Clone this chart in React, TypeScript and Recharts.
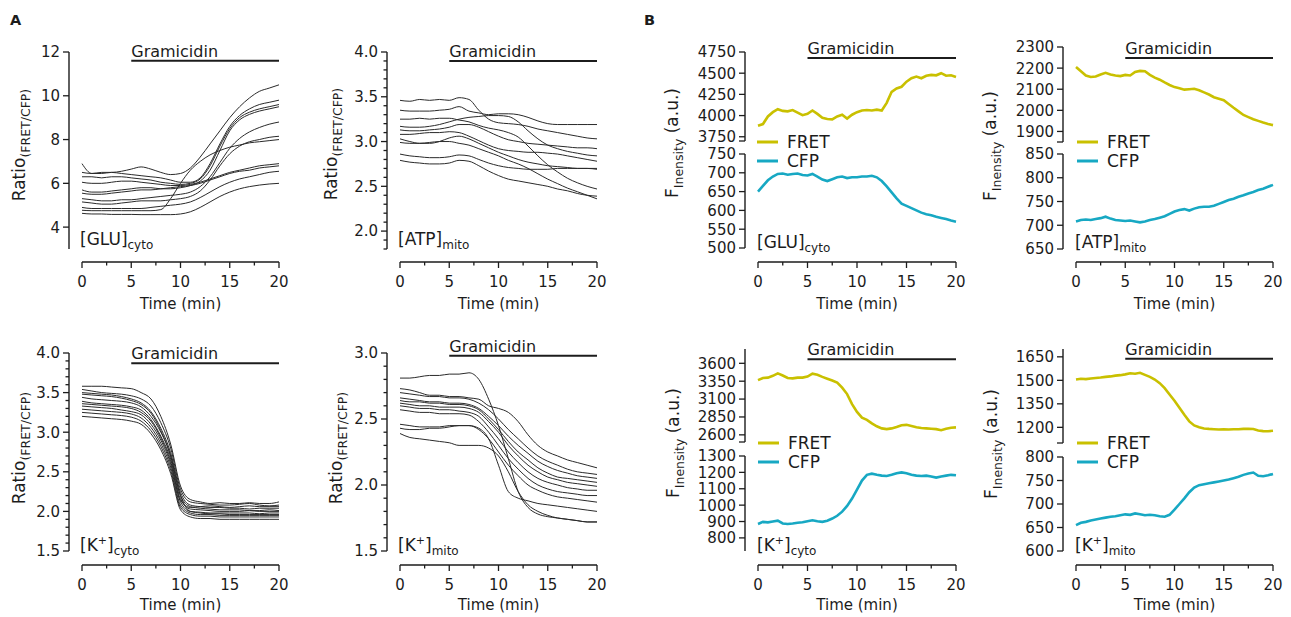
import React from 'react';
import { LineChart, Line, XAxis, YAxis, ReferenceLine } from 'recharts';

const FONT = '"DejaVu Sans", "Liberation Sans", Arial, sans-serif';
const INK = '#1c1c1c';
const TRACE = '#2a2a2a';
const FRET_COLOR = '#c9c000';
const CFP_COLOR = '#17a8c3';

// time points (min)
const minutesA = [0, 1, 2, 3, 4, 5, 6, 7, 8, 9, 10, 11, 12, 13, 14, 15, 16, 17, 18, 19, 20];
const minutesB = [
  0, 0.5, 1, 1.5, 2, 2.5, 3, 3.5, 4, 4.5, 5, 5.5, 6, 6.5, 7, 7.5, 8, 8.5, 9, 9.5, 10,
  10.5, 11, 11.5, 12, 12.5, 13, 13.5, 14, 14.5, 15, 15.5, 16, 16.5, 17, 17.5, 18, 18.5, 19, 19.5, 20,
];
const timeTicks = [0, 2.5, 5, 7.5, 10, 12.5, 15, 17.5, 20];
const timeLabels = [0, 5, 10, 15, 20];

// A: single-cell ratio traces
const gluCyto = [
  [6.9, 6.45, 6.45, 6.5, 6.45, 6.4, 6.35, 6.3, 6.25, 6.15, 6.05, 6.05, 6.25, 6.9, 7.8, 8.6, 9.1, 9.4, 9.6, 9.7, 9.8],
  [6.5, 6.45, 6.5, 6.5, 6.55, 6.65, 6.75, 6.65, 6.5, 6.4, 6.45, 6.7, 7.2, 7.8, 8.4, 9.0, 9.5, 9.9, 10.2, 10.35, 10.5],
  [6.3, 6.3, 6.25, 6.3, 6.3, 6.25, 6.2, 6.15, 6.05, 6.0, 5.95, 6.0, 6.2, 6.8, 7.7, 8.5, 9.0, 9.25, 9.4, 9.5, 9.6],
  [6.05, 6.0, 6.0, 6.05, 6.1, 6.1, 6.05, 6.0, 5.95, 5.9, 5.9, 5.95, 6.05, 6.2, 6.35, 6.5, 6.6, 6.7, 6.8, 6.85, 6.9],
  [5.7, 5.6, 5.6, 5.65, 5.7, 5.75, 5.8, 5.8, 5.75, 5.75, 5.8, 5.9, 6.1, 6.6, 7.5, 8.4, 8.9, 9.15, 9.3, 9.4, 9.5],
  [5.55, 5.5, 5.5, 5.55, 5.6, 5.65, 5.7, 5.7, 5.75, 5.8, 5.85, 5.9, 6.0, 6.15, 6.3, 6.45, 6.55, 6.6, 6.7, 6.75, 6.8],
  [5.3, 5.25, 5.2, 5.2, 5.25, 5.25, 5.3, 5.35, 5.4, 5.45, 5.5, 5.6, 5.85, 6.3, 6.95, 7.6, 8.05, 8.35, 8.55, 8.7, 8.8],
  [5.15, 5.1, 5.05, 5.05, 5.1, 5.15, 5.2, 5.2, 5.2, 5.25, 5.3, 5.4, 5.65, 6.15, 6.8, 7.35, 7.7, 7.9, 8.0, 8.1, 8.15],
  [4.9, 4.85, 4.85, 4.85, 4.85, 4.85, 4.85, 4.9, 4.95, 5.0, 5.05, 5.15, 5.35, 5.6, 5.85, 6.05, 6.2, 6.3, 6.4, 6.5, 6.55],
  [4.77, 4.75, 4.75, 4.75, 4.75, 4.75, 4.75, 4.75, 4.8, 5.3, 6.0, 6.6, 7.0, 7.3, 7.5, 7.65, 7.75, 7.85, 7.9, 7.95, 8.0],
  [4.63, 4.6, 4.6, 4.58, 4.58, 4.58, 4.57, 4.57, 4.57, 4.57, 4.6, 4.7, 4.9, 5.15, 5.4, 5.6, 5.75, 5.85, 5.92, 5.97, 6.0],
];

const atpMito = [
  [3.46, 3.45, 3.47, 3.46, 3.47, 3.46, 3.49, 3.47, 3.35, 3.25, 3.21, 3.2, 3.19, 3.17, 3.14, 3.12, 3.1, 3.08, 3.06, 3.04, 3.03],
  [3.35, 3.34, 3.34, 3.34, 3.35, 3.36, 3.39, 3.34, 3.32, 3.3, 3.31, 3.31, 3.3, 3.27, 3.23, 3.2, 3.19, 3.19, 3.19, 3.19, 3.19],
  [3.25, 3.25, 3.26, 3.25, 3.26, 3.26, 3.24, 3.22, 3.18, 3.15, 3.13, 3.1, 3.05, 2.95, 2.84, 2.74, 2.66, 2.59, 2.54, 2.5, 2.47],
  [3.17, 3.16, 3.16, 3.17, 3.19, 3.22, 3.25, 3.27, 3.28, 3.29, 3.29, 3.28, 3.22, 3.12, 3.03, 2.96, 2.92, 2.89, 2.87, 2.85, 2.84],
  [3.13, 3.12, 3.12, 3.13, 3.14, 3.16, 3.19, 3.19, 3.16, 3.11, 3.06, 3.02, 3.0, 2.98, 2.97, 2.96, 2.95, 2.94, 2.93, 2.93, 2.92],
  [3.08, 3.08, 3.09, 3.1, 3.1, 3.11, 3.1, 3.06, 3.01, 2.96, 2.92, 2.9, 2.89, 2.88, 2.88, 2.87, 2.86, 2.84, 2.82, 2.8, 2.78],
  [2.99, 2.98, 2.98, 2.99, 3.0, 3.0, 2.98, 2.96, 2.92, 2.88, 2.84, 2.79, 2.75, 2.7, 2.64, 2.58, 2.53, 2.48, 2.44, 2.4, 2.36],
  [3.03, 3.0, 2.98, 2.98, 3.0, 3.04, 3.06, 3.03, 2.98, 2.93, 2.88, 2.84, 2.8, 2.77, 2.75, 2.73, 2.72, 2.71, 2.7, 2.7, 2.7],
  [2.86, 2.84, 2.83, 2.82, 2.82, 2.83, 2.85, 2.84, 2.8, 2.76, 2.73, 2.71, 2.7, 2.69, 2.69, 2.69, 2.7, 2.7, 2.7, 2.7, 2.69],
  [2.79, 2.77, 2.76, 2.75, 2.75, 2.76, 2.79, 2.78, 2.73, 2.67, 2.62, 2.58, 2.56, 2.54, 2.52, 2.5, 2.47, 2.45, 2.42, 2.4, 2.39],
];

const kCyto = [
  [3.58, 3.58, 3.58, 3.57, 3.56, 3.55, 3.5, 3.42, 3.2, 2.85, 2.32, 2.15, 2.12, 2.1, 2.11, 2.1, 2.1, 2.11, 2.1, 2.1, 2.12],
  [3.54, 3.52, 3.5, 3.49, 3.48, 3.46, 3.42, 3.33, 3.12, 2.8, 2.28, 2.12, 2.1, 2.09, 2.08, 2.08, 2.09, 2.1, 2.08, 2.07, 2.08],
  [3.5, 3.49, 3.48, 3.47, 3.45, 3.42, 3.37, 3.26, 3.05, 2.74, 2.24, 2.08, 2.06, 2.05, 2.05, 2.04, 2.04, 2.03, 2.04, 2.04, 2.04],
  [3.48, 3.47, 3.46, 3.45, 3.43, 3.4, 3.35, 3.24, 3.02, 2.7, 2.2, 2.0, 1.98, 1.97, 1.97, 1.96, 1.96, 1.96, 1.96, 1.96, 1.96],
  [3.44, 3.42, 3.41, 3.4, 3.39, 3.37, 3.32, 3.2, 3.0, 2.7, 2.2, 2.06, 2.04, 2.03, 2.02, 2.02, 2.02, 2.01, 2.01, 2.02, 2.01],
  [3.39, 3.37, 3.36, 3.35, 3.34, 3.32, 3.28, 3.16, 2.95, 2.66, 2.16, 2.03, 2.02, 2.01, 2.0, 2.0, 2.0, 2.01, 2.0, 2.0, 2.0],
  [3.36, 3.35, 3.34, 3.33, 3.32, 3.3, 3.25, 3.14, 2.93, 2.63, 2.14, 2.05, 2.06, 2.07, 2.06, 2.05, 2.06, 2.07, 2.06, 2.06, 2.06],
  [3.33, 3.32, 3.31, 3.3, 3.28, 3.26, 3.22, 3.1, 2.9, 2.6, 2.12, 2.0, 1.99, 1.98, 1.98, 1.98, 1.98, 1.98, 1.97, 1.98, 1.98],
  [3.29, 3.28, 3.27, 3.26, 3.25, 3.23, 3.18, 3.06, 2.86, 2.56, 2.08, 1.98, 1.96, 1.96, 1.95, 1.95, 1.95, 1.95, 1.95, 1.95, 1.95],
  [3.25, 3.24, 3.23, 3.22, 3.21, 3.19, 3.14, 3.02, 2.82, 2.52, 2.05, 1.96, 1.94, 1.94, 1.93, 1.93, 1.93, 1.93, 1.93, 1.93, 1.93],
  [3.2, 3.19, 3.18, 3.17, 3.16, 3.14, 3.1, 2.98, 2.78, 2.48, 2.02, 1.93, 1.91, 1.91, 1.9, 1.9, 1.9, 1.9, 1.9, 1.9, 1.9],
];

const kMito = [
  [2.81, 2.81, 2.82, 2.83, 2.83, 2.84, 2.84, 2.85, 2.8, 2.65, 2.45, 2.2, 1.95, 1.83, 1.78, 1.76, 1.75, 1.74, 1.73, 1.72, 1.72],
  [2.73, 2.72, 2.7, 2.68, 2.68, 2.67, 2.67, 2.66, 2.65, 2.6, 2.58, 2.55, 2.48, 2.38, 2.3, 2.25, 2.22, 2.19, 2.17, 2.15, 2.13],
  [2.7, 2.69, 2.68, 2.67, 2.67, 2.66, 2.66, 2.65, 2.62, 2.57, 2.5, 2.42, 2.35, 2.28, 2.22, 2.18, 2.15, 2.12, 2.1, 2.09, 2.08],
  [2.66, 2.65, 2.64, 2.63, 2.63, 2.62, 2.62, 2.61, 2.58, 2.52, 2.45, 2.37, 2.3, 2.24, 2.18, 2.14, 2.11, 2.09, 2.07, 2.06, 2.05],
  [2.64, 2.63, 2.63, 2.62, 2.62, 2.61, 2.61, 2.6, 2.57, 2.5, 2.42, 2.33, 2.25, 2.19, 2.13, 2.09, 2.06, 2.05, 2.04, 2.03, 2.02],
  [2.62, 2.61, 2.6, 2.6, 2.59, 2.59, 2.59, 2.58, 2.55, 2.48, 2.4, 2.3, 2.22, 2.15, 2.1, 2.06, 2.04, 2.02, 2.01, 2.0, 1.99],
  [2.6, 2.59, 2.58, 2.58, 2.57, 2.57, 2.56, 2.55, 2.52, 2.44, 2.35, 2.25, 2.17, 2.1, 2.05, 2.02, 2.0, 1.98, 1.97, 1.96, 1.96],
  [2.57, 2.56, 2.55, 2.55, 2.54, 2.54, 2.54, 2.53, 2.48, 2.4, 2.3, 2.2, 2.12, 2.05, 2.0, 1.97, 1.95, 1.94, 1.93, 1.92, 1.92],
  [2.46, 2.45, 2.44, 2.44, 2.44, 2.45, 2.45, 2.45, 2.42, 2.35, 2.25, 2.15, 2.07, 2.0, 1.96, 1.93, 1.91, 1.9, 1.89, 1.88, 1.87],
  [2.43, 2.42, 2.42, 2.43, 2.43, 2.44, 2.45, 2.45, 2.43, 2.35, 2.15, 1.95, 1.9, 1.88, 1.86, 1.85, 1.84, 1.83, 1.82, 1.81, 1.8],
  [2.39, 2.36, 2.35, 2.34, 2.33, 2.32, 2.3, 2.3, 2.3, 2.28, 2.22, 2.1, 1.95, 1.85, 1.8, 1.77, 1.75, 1.74, 1.73, 1.72, 1.72],
];

// B: FRET and CFP intensities (a.u.)
const fretGluCyto = [3880, 3900, 3990, 4040, 4075, 4055, 4050, 4065, 4035, 4005, 4020, 4060, 4020, 3975, 3960, 3955, 3990, 4010, 3965, 4010, 4040, 4060, 4065, 4060, 4070, 4060, 4150, 4280, 4320, 4340, 4400, 4440, 4460, 4440, 4470, 4480, 4475, 4500, 4470, 4475, 4455];
const cfpGluCyto = [650, 665, 680, 690, 697, 698, 695, 697, 698, 694, 693, 697, 690, 682, 678, 683, 688, 690, 686, 688, 688, 690, 690, 692, 688, 678, 664, 648, 632, 618, 612, 606, 600, 594, 590, 587, 583, 580, 577, 573, 570];
const fretAtpMito = [2205, 2185, 2165, 2158, 2160, 2170, 2178, 2170, 2165, 2162, 2168, 2165, 2182, 2187, 2185, 2168, 2155, 2145, 2132, 2120, 2110, 2105, 2098, 2100, 2102, 2095, 2085, 2075, 2062, 2055, 2048, 2030, 2012, 1995, 1978, 1968, 1958, 1950, 1942, 1935, 1930];
const cfpAtpMito = [708, 711, 712, 711, 713, 715, 718, 714, 711, 710, 709, 710, 708, 706, 708, 711, 713, 716, 719, 724, 729, 732, 734, 731, 735, 738, 739, 739, 741, 745, 749, 753, 756, 760, 763, 767, 770, 774, 777, 781, 785];
const fretKCyto = [3365, 3395, 3400, 3425, 3460, 3430, 3395, 3390, 3400, 3400, 3415, 3455, 3440, 3410, 3385, 3360, 3330, 3260, 3170, 3030, 2920, 2840, 2810, 2760, 2720, 2690, 2680, 2690, 2710, 2735, 2740, 2725, 2705, 2695, 2690, 2685, 2680, 2665, 2685, 2700, 2705];
const cfpKCyto = [885, 898, 895, 900, 905, 888, 885, 888, 892, 895, 902, 908, 902, 898, 905, 918, 935, 960, 995, 1040, 1095, 1150, 1185, 1192, 1185, 1180, 1178, 1185, 1195, 1200, 1195, 1185, 1180, 1178, 1180, 1175, 1168, 1175, 1180, 1185, 1182];
const fretKMito = [1505, 1510, 1508, 1512, 1515, 1518, 1522, 1525, 1530, 1533, 1538, 1545, 1542, 1548, 1535, 1522, 1505, 1482, 1450, 1410, 1370, 1325, 1280, 1238, 1212, 1200, 1193, 1190, 1188, 1186, 1187, 1186, 1188, 1188, 1190, 1191, 1189, 1180, 1176, 1175, 1178];
const cfpKMito = [655, 660, 662, 665, 667, 669, 671, 673, 674, 676, 678, 677, 680, 678, 676, 677, 676, 674, 673, 677, 688, 700, 712, 725, 735, 740, 742, 744, 746, 748, 750, 752, 755, 758, 762, 765, 767, 760, 759, 761, 764];

// y tick values
const gluTicks = [4, 6, 8, 10, 12];
const atpLabels = [2, 2.5, 3, 3.5, 4];
const atpMinor = [1.8, 1.9, 2.1, 2.2, 2.3, 2.4, 2.6, 2.7, 2.8, 2.9, 3.1, 3.2, 3.3, 3.4, 3.6, 3.7, 3.8, 3.9];
const kCytoLabels = [1.5, 2, 2.5, 3, 3.5, 4];
const kCytoMinor = [1.6, 1.7, 1.8, 1.9, 2.1, 2.2, 2.3, 2.4, 2.6, 2.7, 2.8, 2.9, 3.1, 3.2, 3.3, 3.4, 3.6, 3.7, 3.8, 3.9];
const kMitoLabels = [1.5, 2, 2.5, 3];
const kMitoMinor = [1.6, 1.7, 1.8, 1.9, 2.1, 2.2, 2.3, 2.4, 2.6, 2.7, 2.8, 2.9];
const fretGluLabels = [3750, 4000, 4250, 4500, 4750];
const cfpGluLabels = [500, 550, 600, 650, 700, 750];
const fretAtpLabels = [1900, 2000, 2100, 2200, 2300];
const cfpAtpLabels = [650, 700, 750, 800, 850];
const fretKCytoLabels = [2600, 2850, 3100, 3350, 3600];
const cfpKCytoLabels = [800, 900, 1000, 1100, 1200, 1300];
const fretKMitoLabels = [1200, 1350, 1500, 1650];
const cfpKMitoLabels = [600, 650, 700, 750, 800];

type Row = Record<string, number>;

function toRows(times: number[], traces: number[][]): Row[] {
  return times.map((t, i) => {
    const row: Row = { t };
    traces.forEach((tr, k) => {
      row['s' + k] = tr[i];
    });
    return row;
  });
}

function TimeTick(props: any) {
  const { x, y, payload, font } = props;
  const v = payload.value as number;
  const major = timeLabels.includes(v);
  return (
    <g>
      <line x1={x} x2={x} y1={y} y2={y + (major ? 6 : 3.5)} stroke={INK} strokeWidth={1.3} />
      {major && (
        <text x={x} y={y + 25} textAnchor="middle" fontSize={font} fontFamily={FONT} fill={INK}>
          {v}
        </text>
      )}
    </g>
  );
}

function ValueTick(props: any) {
  const { x, y, payload, labels, minor, digits, font } = props;
  const v = payload.value as number;
  const short = minor.includes(v);
  const labelled = labels.includes(v);
  return (
    <g>
      <line x1={x - (short ? 3.5 : 6)} x2={x} y1={y} y2={y} stroke={INK} strokeWidth={1.3} />
      {labelled && (
        <text x={x - 9} y={y} dy="0.36em" textAnchor="end" fontSize={font} fontFamily={FONT} fill={INK}>
          {v.toFixed(digits)}
        </text>
      )}
    </g>
  );
}

const gramLabel = (p: any) => {
  const vb = p.viewBox || {};
  return (
    <text x={vb.x} y={vb.y - 4} fontSize={16} fontFamily={FONT} fill={INK}>
      Gramicidin
    </text>
  );
};

interface PlotProps {
  x0: number;
  zero: number;
  x1: number;
  top: number;
  bottom: number;
  axisY?: number;
  rows: Row[];
  keys: string[];
  color: string;
  lineWidth: number;
  curve: 'linear' | 'monotone';
  domain: [number, number];
  yTicks: number[];
  yLabels: number[];
  yMinor?: number[];
  digits: number;
  tickFont: number;
  gram?: number;
}

function Plot(p: PlotProps) {
  const yw = 60;
  const mt = 30;
  const mr = 12;
  const xh = 40;
  const left = p.x0 - yw;
  const topPx = p.top - mt;
  const hasX = p.axisY !== undefined;
  const plotBottom = hasX ? (p.axisY as number) : p.bottom;
  // a panel without its own time axis keeps a little room below for its lowest tick label
  const mb = hasX ? 0 : 10;
  const height = plotBottom - topPx + (hasX ? xh : mb);
  const width = p.x1 - left + mr;
  const pad = p.zero - p.x0;
  const padBottom = plotBottom - p.bottom;
  const minor = p.yMinor ?? [];
  return (
    <div style={{ position: 'absolute', left, top: topPx }}>
      <LineChart width={width} height={height} data={p.rows} margin={{ top: mt, right: mr, bottom: mb, left: 0 }}>
        <XAxis
          dataKey="t"
          type="number"
          domain={[0, 20]}
          ticks={timeTicks}
          interval={0}
          hide={!hasX}
          height={xh}
          padding={{ left: pad, right: 0 }}
          tickSize={0}
          tickMargin={0}
          tickLine={false}
          axisLine={{ stroke: INK, strokeWidth: 1.4, strokeDasharray: `0 ${pad} 4000` }}
          tick={(tp: any) => <TimeTick {...tp} font={p.tickFont} />}
        />
        <YAxis
          type="number"
          domain={p.domain}
          ticks={p.yTicks}
          interval={0}
          width={yw}
          padding={{ top: 0, bottom: padBottom }}
          tickSize={0}
          tickMargin={0}
          tickLine={false}
          axisLine={{ stroke: INK, strokeWidth: 1.4, strokeDasharray: `${p.bottom - p.top} 4000` }}
          tick={(tp: any) => (
            <ValueTick {...tp} labels={p.yLabels} minor={minor} digits={p.digits} font={p.tickFont} />
          )}
        />
        {p.keys.map((k) => (
          <Line
            key={k}
            dataKey={k}
            type={p.curve}
            stroke={p.color}
            strokeWidth={p.lineWidth}
            dot={false}
            activeDot={false}
            isAnimationActive={false}
          />
        ))}
        {p.gram !== undefined && (
          <ReferenceLine
            segment={[
              { x: 5, y: p.gram },
              { x: 20, y: p.gram },
            ]}
            stroke={INK}
            strokeWidth={2}
            ifOverflow="visible"
            label={gramLabel}
          />
        )}
      </LineChart>
    </div>
  );
}

const keysOf = (traces: number[][]) => traces.map((_, k) => 's' + k);

function RatioTitle({ x, y }: { x: number; y: number }) {
  return (
    <text transform={`rotate(-90 ${x} ${y})`} x={x} y={y} textAnchor="middle" fontSize={17}>
      Ratio
      <tspan fontSize={12.5} dy={5}>
        (FRET/CFP)
      </tspan>
    </text>
  );
}

function IntensityTitle({ x, y }: { x: number; y: number }) {
  return (
    <text transform={`rotate(-90 ${x} ${y})`} x={x} y={y} textAnchor="middle" fontSize={17}>
      F
      <tspan fontSize={12.5} dy={5}>
        Inensity
      </tspan>
      <tspan dy={-5}>{' (a.u.)'}</tspan>
    </text>
  );
}

function Sensor({ x, y, name, site, ion }: { x: number; y: number; name: string; site: string; ion?: boolean }) {
  return (
    <text x={x} y={y} fontSize={17}>
      {'[' + name}
      {ion && (
        <tspan fontSize={11} dy={-7}>
          +
        </tspan>
      )}
      <tspan dy={ion ? 7 : 0}>]</tspan>
      <tspan fontSize={12} dy={4}>
        {site}
      </tspan>
    </text>
  );
}

function LegendBox({ x, y }: { x: number; y: number }) {
  return (
    <g>
      <line x1={x} x2={x + 21} y1={y} y2={y} stroke={FRET_COLOR} strokeWidth={3} />
      <text x={x + 30} y={y + 6} fontSize={17}>
        FRET
      </text>
      <line x1={x} x2={x + 21} y1={y + 19} y2={y + 19} stroke={CFP_COLOR} strokeWidth={3} />
      <text x={x + 30} y={y + 25} fontSize={17}>
        CFP
      </text>
    </g>
  );
}

function Overlay() {
  return (
    <svg
      width={1291}
      height={617}
      style={{ position: 'absolute', left: 0, top: 0, pointerEvents: 'none' }}
      fontFamily={FONT}
      fill={INK}
    >
      <text x={10} y={25} fontSize={14.5} fontWeight="bold">
        A
      </text>
      <text x={644} y={25} fontSize={14.5} fontWeight="bold">
        B
      </text>
      <RatioTitle x={25} y={145} />
      <RatioTitle x={337} y={144} />
      <RatioTitle x={25} y={448} />
      <RatioTitle x={342} y={448} />
      <IntensityTitle x={678} y={143} />
      <IntensityTitle x={996} y={146} />
      <IntensityTitle x={679} y={443} />
      <IntensityTitle x={997} y={444} />
      {[180.5, 498.5, 857, 1174.5].map((cx) => (
        <React.Fragment key={cx}>
          <text x={cx} y={309} textAnchor="middle" fontSize={15}>
            Time (min)
          </text>
          <text x={cx} y={610} textAnchor="middle" fontSize={15}>
            Time (min)
          </text>
        </React.Fragment>
      ))}
      <Sensor x={80} y={245} name="GLU" site="cyto" />
      <Sensor x={398} y={245} name="ATP" site="mito" />
      <Sensor x={80} y={551} name="K" site="cyto" ion />
      <Sensor x={398} y={551} name="K" site="mito" ion />
      <Sensor x={757} y={248} name="GLU" site="cyto" />
      <Sensor x={1075} y={248} name="ATP" site="mito" />
      <Sensor x={757} y={551} name="K" site="cyto" ion />
      <Sensor x={1075} y={551} name="K" site="mito" ion />
      <LegendBox x={757} y={142} />
      <LegendBox x={1077} y={142} />
      <LegendBox x={758} y={443} />
      <LegendBox x={1077} y={443} />
    </svg>
  );
}

export default function App() {
  const aCommon = { color: TRACE, lineWidth: 1, curve: 'monotone' as const, tickFont: 15 };
  const bCommon = { lineWidth: 2.6, curve: 'linear' as const, tickFont: 15, digits: 0, keys: ['s0'] };
  const left = { x0: 69, zero: 82, x1: 279 };
  const right = { x0: 387, zero: 400, x1: 597 };
  const bl = { x0: 745, zero: 758, x1: 956 };
  const br = { x0: 1063, zero: 1076, x1: 1273 };
  return (
    <div
      style={{
        position: 'absolute',
        left: 0,
        top: 0,
        width: 1291,
        height: 617,
        background: '#fff',
        fontFamily: FONT,
        overflow: 'hidden',
      }}
    >
      {/* A */}
      <Plot {...aCommon} {...left} top={52} bottom={249} axisY={262} rows={toRows(minutesA, gluCyto)} keys={keysOf(gluCyto)}
        domain={[3, 12]} yTicks={gluTicks} yLabels={gluTicks} digits={0} gram={11.6} />
      <Plot {...aCommon} {...right} top={52} bottom={249} axisY={262} rows={toRows(minutesA, atpMito)} keys={keysOf(atpMito)}
        domain={[1.8, 4]} yTicks={[...atpLabels, ...atpMinor]} yLabels={atpLabels} yMinor={atpMinor} digits={1} gram={3.9} />
      <Plot {...aCommon} {...left} top={353} bottom={551} axisY={565} rows={toRows(minutesA, kCyto)} keys={keysOf(kCyto)}
        domain={[1.5, 4]} yTicks={[...kCytoLabels, ...kCytoMinor]} yLabels={kCytoLabels} yMinor={kCytoMinor} digits={1} gram={3.87} />
      <Plot {...aCommon} {...right} top={353} bottom={551} axisY={565} rows={toRows(minutesA, kMito)} keys={keysOf(kMito)}
        domain={[1.5, 3]} yTicks={[...kMitoLabels, ...kMitoMinor]} yLabels={kMitoLabels} yMinor={kMitoMinor} digits={1} gram={2.98} />

      {/* B: [GLU]cyto */}
      <Plot {...bCommon} {...bl} top={52} bottom={141} rows={toRows(minutesB, [fretGluCyto])} color={FRET_COLOR}
        domain={[3700, 4750]} yTicks={[3700, ...fretGluLabels]} yLabels={fretGluLabels} gram={4680} />
      <Plot {...bCommon} {...bl} top={154} bottom={248} axisY={262} rows={toRows(minutesB, [cfpGluCyto])} color={CFP_COLOR}
        domain={[500, 750]} yTicks={cfpGluLabels} yLabels={cfpGluLabels} />
      {/* B: [ATP]mito */}
      <Plot {...bCommon} {...br} top={47} bottom={142} rows={toRows(minutesB, [fretAtpMito])} color={FRET_COLOR}
        domain={[1850, 2300]} yTicks={[1850, ...fretAtpLabels]} yLabels={fretAtpLabels} gram={2248} />
      <Plot {...bCommon} {...br} top={154} bottom={249} axisY={262} rows={toRows(minutesB, [cfpAtpMito])} color={CFP_COLOR}
        domain={[650, 850]} yTicks={cfpAtpLabels} yLabels={cfpAtpLabels} />
      {/* B: [K+]cyto */}
      <Plot {...bCommon} {...bl} top={349} bottom={442} rows={toRows(minutesB, [fretKCyto])} color={FRET_COLOR}
        domain={[2500, 3800]} yTicks={[2500, ...fretKCytoLabels]} yLabels={fretKCytoLabels} gram={3655} />
      <Plot {...bCommon} {...bl} top={456} bottom={551} axisY={565} rows={toRows(minutesB, [cfpKCyto])} color={CFP_COLOR}
        domain={[720, 1300]} yTicks={cfpKCytoLabels} yLabels={cfpKCytoLabels} />
      {/* B: [K+]mito */}
      <Plot {...bCommon} {...br} top={349} bottom={443} rows={toRows(minutesB, [fretKMito])} color={FRET_COLOR}
        domain={[1100, 1700]} yTicks={[1100, ...fretKMitoLabels]} yLabels={fretKMitoLabels} gram={1637} />
      <Plot {...bCommon} {...br} top={457} bottom={551} axisY={565} rows={toRows(minutesB, [cfpKMito])} color={CFP_COLOR}
        domain={[600, 800]} yTicks={cfpKMitoLabels} yLabels={cfpKMitoLabels} />

      <Overlay />
    </div>
  );
}
